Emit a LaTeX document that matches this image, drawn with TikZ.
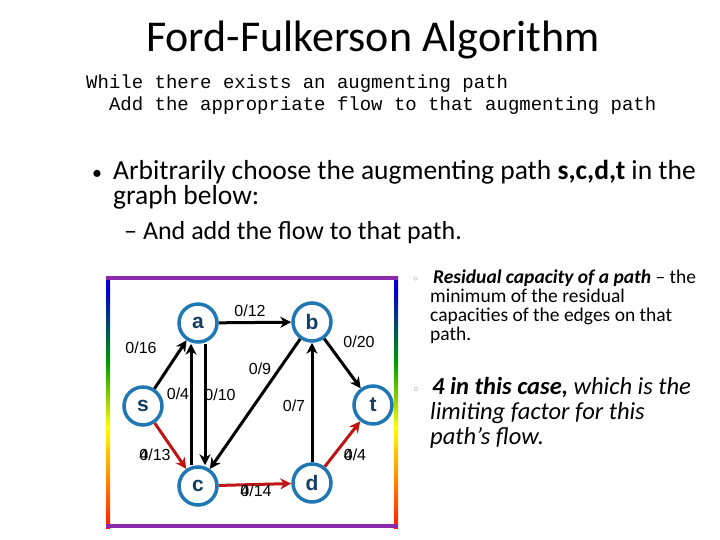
\documentclass[tikz,border=0pt]{standalone}
\usepackage{fontspec}
\setmainfont{Carlito}
\newfontfamily\codefont{Liberation Mono}
\newfontfamily\arialf{Liberation Sans}
\newfontfamily\dejavu{DejaVu Sans}
\usetikzlibrary{arrows.meta}
\definecolor{nodeblue}{RGB}{31,119,180}
\definecolor{letterblue}{RGB}{20,60,100}
\definecolor{redpath}{RGB}{190,20,20}
\definecolor{frameviolet}{RGB}{140,40,170}
\pgfdeclareverticalshading{rainbow}{100bp}{color(0bp)=(frameviolet); color(25bp)=(red!80!orange); color(45bp)=(yellow); color(58bp)=(green!60!black); color(72bp)=(blue!80!black); color(100bp)=(frameviolet)}
\tikzset{
  vert/.style={circle,draw=nodeblue,line width=3.5pt,fill=white,minimum size=38pt,inner sep=0pt,font=\arialf\bfseries\fontsize{21}{21}\selectfont,text=letterblue},
  edge/.style={line width=3pt,-{Stealth[length=11pt,width=11pt]}},
  redge/.style={edge,draw=redpath},
  lab/.style={font=\arialf\fontsize{16}{16}\selectfont,inner sep=0pt},
  txt/.style={anchor=base west,inner sep=0pt},
}
\begin{document}
\begin{tikzpicture}[x=1pt,y=-1pt]
\useasboundingbox (0,0) rectangle (720,540);
\fill[white] (0,0) rectangle (720,540);
\node[anchor=base,inner sep=0pt,font=\fontsize{44}{44}\selectfont] (title) at (373,52) {Ford-Fulkerson Algorithm};
\node[txt,font=\codefont\fontsize{19}{19}\selectfont] (c1) at (86,89) {While there exists an augmenting path};
\node[txt,font=\codefont\fontsize{19}{19}\selectfont] (c2) at (86,111) {\ \ Add the appropriate flow to that augmenting path};
\node[txt,font=\fontsize{20}{20}\selectfont] (b0) at (92,180) {•};
\node[txt,font=\fontsize{27.5}{27.5}\selectfont] (b1) at (113,180) {Arbitrarily choose the augmenting path \textbf{s,c,d,t} in the};
\node[txt,font=\fontsize{27.5}{27.5}\selectfont] (b2) at (113,205) {graph below:};
\node[txt,font=\fontsize{26}{26}\selectfont] (b3) at (124,240) {– And add the flow to that path.};
% right text
\node[txt,font=\dejavu\fontsize{12}{12}\selectfont,text=gray] (r0) at (412,283) {◦};
\node[txt,font=\fontsize{19.5}{19.5}\selectfont] (r1) at (433,283) {\textbf{\textit{Residual capacity of a path}} – the};
\node[txt,font=\fontsize{19.5}{19.5}\selectfont] (r2) at (430,302) {minimum of the residual};
\node[txt,font=\fontsize{19.5}{19.5}\selectfont] (r3) at (430,321) {capacities of the edges on that};
\node[txt,font=\fontsize{19.5}{19.5}\selectfont] (r4) at (430,340) {path.};
\node[txt,font=\dejavu\fontsize{13}{13}\selectfont,text=gray] (s0) at (412,394) {◦};
\node[txt,font=\fontsize{24.5}{24.5}\selectfont\itshape] (s1) at (432,394) {\textbf{4 in this case,} which is the};
\node[txt,font=\fontsize{24.5}{24.5}\selectfont\itshape] (s2) at (430,419) {limiting factor for this};
\node[txt,font=\fontsize{24.5}{24.5}\selectfont\itshape] (s3) at (430,444) {path’s flow.};
% frame
\shade[shading=rainbow] (106,276) rectangle (110,528);
\shade[shading=rainbow] (394,276) rectangle (398,528);
\fill[frameviolet] (106,276) rectangle (398,280);
\fill[frameviolet] (106,524) rectangle (398,528);
% nodes
\node[vert] (a) at (198,323) {a};
\node[vert] (b) at (312,322) {b};
\node[vert] (s) at (143,406) {s};
\node[vert] (t) at (373,405) {t};
\node[vert] (c) at (198,486) {c};
\node[vert] (d) at (312,483) {d};
% edges
\draw[edge] (s) -- (a);
\draw[edge] (a) -- (b);
\draw[edge] (b) -- (t);
\draw[edge] ([xshift=7pt]a.south) -- ([xshift=7pt]c.north);
\draw[edge] ([xshift=-7pt]c.north) -- ([xshift=-7pt]a.south);
\draw[edge] (b) -- (c);
\draw[edge] (d) -- (b);
\draw[redge] (s) -- (c);
\draw[redge] (c) -- (d);
\draw[redge] (d) -- (t);
% labels
\node[lab] (l1) at (250,311) {0/12};
\node[lab] (l2) at (141,348) {0/16};
\node[lab] (l3) at (359,342) {0/20};
\node[lab] (l4) at (260,369) {0/9};
\node[lab] (l5) at (178,394) {0/4};
\node[lab] (l6) at (220,395) {0/10};
\node[lab] (l7) at (294,406) {0/7};
\node[lab] (l8) at (155,455) {0/13};
\node[lab,anchor=west] (l8b) at (l8.west) {4};
\node[lab] (l9) at (256,491) {0/14};
\node[lab,anchor=west] (l9b) at (l9.west) {4};
\node[lab] (l10) at (355,455) {0/4};
\node[lab,anchor=west] (l10b) at (l10.west) {4};
\end{tikzpicture}
\end{document}
